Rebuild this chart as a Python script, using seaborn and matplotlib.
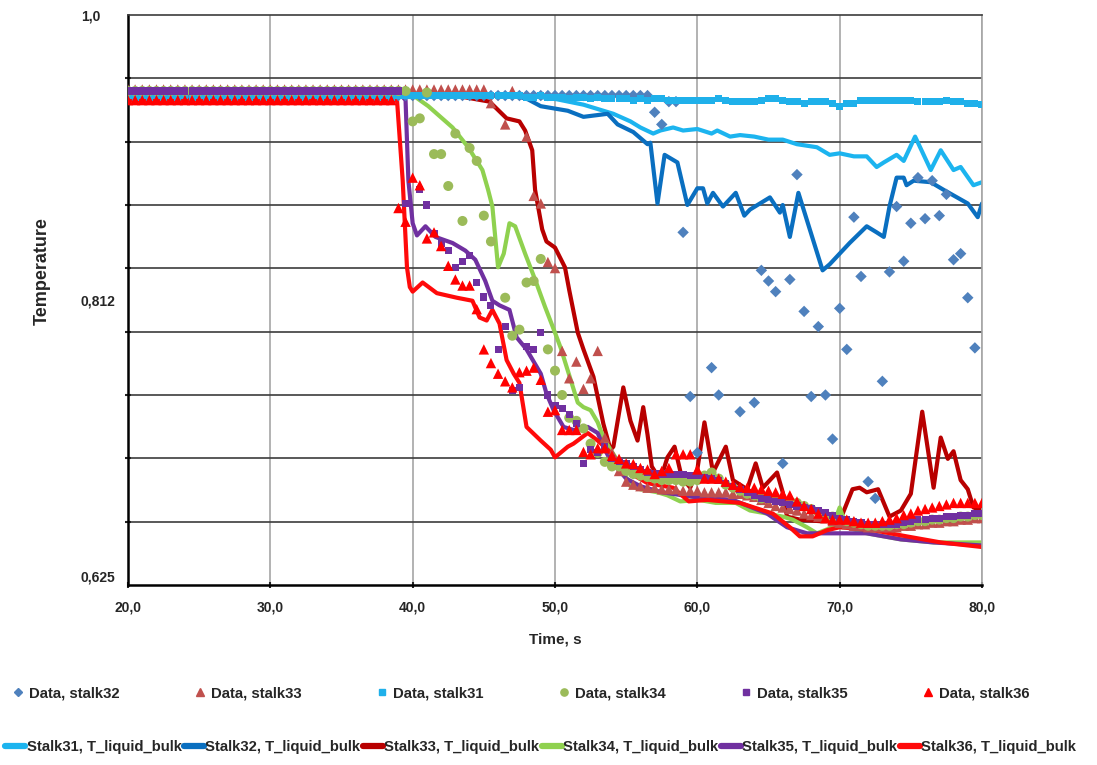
import numpy as np
import matplotlib
matplotlib.use("Agg")
import matplotlib.pyplot as plt
from matplotlib.lines import Line2D
import seaborn as sns

# ---------------- data ----------------
time_s = np.arange(20.0, 80.01, 0.5)   # sample times of the measured data (121 points)

data_stalk31 = ([0.947, 0.946, 0.947, 0.946, 0.947, 0.946, 0.947, 0.946, 0.947, 0.946,
                 0.947, 0.946, 0.947, 0.946, 0.947, 0.946, 0.947, 0.946, 0.947, 0.946,
                 0.947, 0.946, 0.947, 0.946, 0.947, 0.946, 0.947, 0.946, 0.947, 0.946,
                 0.947, 0.946, 0.947, 0.946, 0.947, 0.946, 0.947, 0.946, 0.947, 0.947,
                 0.947, 0.947, 0.947, 0.947, 0.947, 0.947, 0.947, 0.947, 0.947, 0.947,
                 0.947, 0.947, 0.947, 0.947, 0.947, 0.947]
                + [0.946, 0.946, 0.947, 0.946, 0.946, 0.946, 0.945, 0.946, 0.946, 0.945,
                   0.946, 0.945, 0.945, 0.945, 0.945, 0.944, 0.945, 0.944, 0.945, 0.945,
                   0.944, 0.944, 0.944, 0.944, 0.944]
                + [0.944, 0.944, 0.945, 0.944, 0.943, 0.943, 0.943, 0.943, 0.944, 0.945,
                   0.945, 0.944, 0.943, 0.943, 0.942, 0.943, 0.943, 0.943, 0.942, 0.940]
                + [0.942, 0.942, 0.944, 0.944, 0.944, 0.944, 0.944, 0.944, 0.944, 0.944,
                   0.943, 0.943, 0.943, 0.943, 0.944, 0.943, 0.943, 0.942, 0.942, 0.941])

nan = np.nan
data_stalk32 = ([0.947, 0.947, 0.947, 0.947, 0.947, 0.947, 0.947, 0.947, 0.947, 0.947,
                 0.947, 0.947, 0.947, 0.947, 0.947, 0.947, 0.947, 0.947, 0.947, 0.947,
                 0.947, 0.947, 0.947, 0.947, 0.947, 0.947, 0.947, 0.947, 0.947, 0.947,
                 0.947, 0.947, 0.947, 0.947, 0.947, 0.947, 0.947, 0.947, 0.947, 0.947,
                 0.947, 0.947, 0.947, 0.947, 0.947, 0.947, 0.947, 0.947, 0.947, 0.947,
                 0.947, 0.947, 0.947, 0.947, 0.947, 0.947, 0.947, 0.947, 0.947, 0.947,
                 0.947, 0.947, 0.947, 0.947, 0.947, 0.947, 0.947, 0.947, 0.947, 0.947,
                 0.947, 0.947, 0.947, 0.947]
                + [0.936, 0.928, 0.943, 0.943, 0.857, 0.749, 0.712, nan, 0.768, 0.750,
                   nan, nan, 0.739, nan, 0.745, 0.832, 0.825, 0.818, 0.705, 0.826,
                   0.895, 0.805, 0.749, 0.795, 0.750, 0.721, 0.807, 0.780, 0.867, 0.828,
                   0.693, 0.682, 0.759, 0.831, 0.874, 0.838, 0.863, 0.893, 0.866, 0.891,
                   0.868, 0.882, 0.839, 0.843, 0.814, 0.781, nan])

data_stalk33 = ([0.951, 0.951, 0.951, 0.951, 0.951, 0.951, 0.951, 0.951, 0.951, 0.951,
                 0.951, 0.951, 0.951, 0.951, 0.951, 0.951, 0.951, 0.951, 0.951, 0.951,
                 0.951, 0.951, 0.951, 0.951, 0.951, 0.951, 0.951, 0.951, 0.951, 0.951,
                 0.951, 0.951, 0.951, 0.951, 0.951, 0.951, 0.951, 0.951, 0.951, 0.951,
                 0.951, 0.951, 0.951, 0.951, 0.951, 0.951, 0.951, 0.951, 0.951, 0.951,
                 0.951]
                + [0.942, nan, 0.928, 0.950, nan, 0.920, 0.881, 0.876, 0.8375, 0.8335,
                   0.779, 0.761, 0.772, 0.754, 0.761, 0.779, 0.722, 0.712, 0.700]
                + [0.693, 0.691, 0.690, 0.689, 0.689, 0.688, 0.688, 0.688, 0.687, 0.687,
                   0.687, 0.686, 0.686, 0.686, 0.686, 0.685, 0.685, 0.684, 0.683, 0.681,
                   0.679, 0.677, 0.676, 0.675, 0.674, 0.672, 0.671, 0.670, 0.669, 0.667,
                   0.666, 0.665, 0.664, 0.664, 0.663, 0.663, 0.663, 0.663, 0.663, 0.664,
                   0.664, 0.665, 0.665, 0.666, 0.666, 0.667, 0.667, 0.668, 0.668, 0.669,
                   0.669])

data_stalk34 = ([0.950, 0.950, 0.950, 0.950, 0.950, 0.950, 0.950, 0.950, 0.950, 0.950,
                 0.950, 0.950, 0.950, 0.950, 0.950, 0.950, 0.950, 0.950, 0.950, 0.950,
                 0.950, 0.950, 0.950, 0.950, 0.950, 0.950, 0.950, 0.950, 0.950, 0.950,
                 0.950, 0.950, 0.950, 0.950, 0.950, 0.950, 0.950, 0.950, 0.950, 0.950]
                + [0.930, 0.932, 0.949, 0.9085, 0.9085, 0.8875, 0.922, 0.8645, 0.9125, 0.904,
                   0.868, 0.851, nan, 0.814, 0.789, 0.793, 0.824, 0.825, 0.8395, 0.780,
                   0.766, 0.750, 0.735, 0.733, 0.728, 0.718, 0.712, 0.706, 0.703]
                + [0.703, 0.700, 0.698, 0.697, 0.696, 0.695, 0.694, 0.694, 0.694, 0.693,
                   0.693, 0.694, 0.697, 0.699, 0.695, 0.691, 0.689, 0.687, 0.685, 0.684,
                   0.682, 0.682, 0.681, 0.680, 0.680, 0.679, 0.677, 0.675, 0.673, 0.671,
                   0.670, 0.668, 0.667, 0.666, 0.665, 0.664, 0.664, 0.664, 0.664, 0.665,
                   0.665, 0.666, 0.667, 0.667, 0.668, 0.668, 0.669, 0.669, 0.670, 0.670,
                   0.671, 0.671])

data_stalk35 = ([0.950, 0.950, 0.950, 0.950, 0.950, 0.950, 0.950, 0.950, 0.950, 0.950,
                 0.950, 0.950, 0.950, 0.950, 0.950, 0.950, 0.950, 0.950, 0.950, 0.950,
                 0.950, 0.950, 0.950, 0.950, 0.950, 0.950, 0.950, 0.950, 0.950, 0.950,
                 0.950, 0.950, 0.950, 0.950, 0.950, 0.950, 0.950, 0.950, 0.950]
                + [0.876, nan, 0.885, 0.875, 0.856, 0.850, 0.845, 0.834, 0.838, 0.842,
                   0.824, 0.8145, 0.809, 0.780, 0.795, 0.753, 0.755, 0.782, 0.780, 0.791,
                   0.750, 0.743, 0.741, 0.737, 0.731, 0.705, 0.714, 0.712, 0.716, 0.7085]
                + [0.706, 0.705, 0.703, 0.701, 0.699, 0.6985, 0.698, 0.698, 0.6975, 0.6975,
                   0.697, 0.697, 0.696, 0.695, 0.694, 0.692, 0.690, 0.688, 0.686, 0.684,
                   0.682, 0.681, 0.680, 0.679, 0.678, 0.677, 0.676, 0.675, 0.674, 0.6725,
                   0.671, 0.669, 0.668, 0.667, 0.666, 0.665, 0.665, 0.665, 0.665, 0.665,
                   0.666, 0.667, 0.668, 0.668, 0.669, 0.669, 0.670, 0.670, 0.671, 0.671,
                   0.672, 0.672])

data_stalk36 = ([0.944, 0.944, 0.944, 0.944, 0.944, 0.944, 0.944, 0.944, 0.944, 0.944,
                 0.944, 0.944, 0.944, 0.944, 0.944, 0.944, 0.944, 0.944, 0.944, 0.944,
                 0.944, 0.944, 0.944, 0.944, 0.944, 0.944, 0.944, 0.944, 0.944, 0.944,
                 0.944, 0.944, 0.944, 0.944, 0.944, 0.944, 0.944, 0.944]
                + [0.873, 0.864, 0.893, 0.888, 0.853, 0.857, 0.848, 0.835, 0.826, 0.822,
                   0.822, 0.8065, 0.780, 0.771, 0.764, 0.759, 0.755, 0.765, 0.766, 0.768,
                   0.760, 0.739, 0.740, 0.727, 0.727, 0.727, 0.7125, 0.711, 0.715, 0.715,
                   0.710, 0.708]
                + [0.705, 0.7046, 0.702, 0.701, 0.698, 0.700, 0.702, 0.711, 0.711, 0.711,
                   0.701, 0.695, 0.695, 0.695, 0.693, 0.691, 0.6895, 0.689, 0.689, 0.688,
                   0.687, 0.686, 0.685, 0.684, 0.680, 0.677, 0.675, 0.672, 0.669, 0.668,
                   0.668, 0.668, 0.667, 0.666, 0.666, 0.666, 0.667, 0.668, 0.669, 0.671,
                   0.672, 0.674, 0.675, 0.676, 0.677, 0.678, 0.679, 0.679, 0.679, 0.679,
                   0.679])

# simulated T_liquid_bulk curves (x = time, y = temperature)
sim31_t = [20, 30, 40, 46, 48, 49.9, 52, 54.1, 55.3, 56, 56.9, 57.4, 58.3, 59, 60, 61, 61.4,
           62.3, 63, 64, 65, 66, 67, 68.4, 69.3, 70, 71, 71.9, 72.6, 73.1, 74, 74.5, 75.3,
           76.4, 77.1, 78, 78.5, 79.4, 80]
sim31_y = [0.947, 0.947, 0.947, 0.947, 0.947, 0.945, 0.941, 0.935, 0.930, 0.926, 0.922, 0.924,
           0.926, 0.924, 0.925, 0.922, 0.924, 0.920, 0.921, 0.920, 0.918, 0.918, 0.915, 0.913,
           0.908, 0.909, 0.907, 0.907, 0.900, 0.903, 0.908, 0.904, 0.920, 0.898, 0.911, 0.898,
           0.900, 0.888, 0.890]

sim32_t = [20, 30, 40, 47, 48, 49, 50.9, 52, 53.7, 54.4, 55.5, 56.5, 56.7, 57.2, 57.7, 58.6,
           59.3, 60, 60.4, 60.7, 61.1, 61.8, 62.7, 63.3, 63.7, 65.1, 65.8, 66, 66.5, 67.1,
           67.9, 68.8, 69.3, 70, 70.7, 71.9, 72.6, 73.1, 73.5, 74, 74.5, 74.7, 75.2, 76.4,
           77.3, 79, 79.7, 80]
sim32_y = [0.947, 0.947, 0.947, 0.947, 0.945, 0.940, 0.937, 0.933, 0.935, 0.928, 0.923, 0.915,
           0.916, 0.876, 0.908, 0.903, 0.875, 0.886, 0.886, 0.876, 0.883, 0.874, 0.883, 0.868,
           0.872, 0.880, 0.870, 0.875, 0.854, 0.883, 0.859, 0.832, 0.836, 0.843, 0.850, 0.861,
           0.857, 0.854, 0.874, 0.893, 0.893, 0.888, 0.891, 0.890, 0.885, 0.876, 0.867, 0.876]

sim33_t = [20, 30, 40, 43, 44.2, 45.4, 46.6, 47.5, 47.9, 48.4, 48.6, 49.1, 49.4, 50.0, 50.7,
           51.0, 51.6, 52.0, 52.7, 53.4, 53.9, 54.1, 54.8, 55.3, 55.8, 56.2, 56.5, 56.8, 57.4,
           57.9, 58.4, 58.9, 59.5, 60.0, 60.5, 61.1, 62.0, 62.5, 63.5, 64.1, 64.6, 65.1, 65.6,
           66.0, 66.3, 67.2, 68.6, 70.0, 70.9, 71.4, 71.9, 72.7, 73.5, 74.3, 75.0, 75.8, 76.6,
           77.1, 77.6, 78.0, 78.5, 79.0, 79.4, 80]
sim33_y = [0.947, 0.947, 0.947, 0.947, 0.945, 0.943, 0.932, 0.930, 0.924, 0.911, 0.885, 0.859,
           0.851, 0.847, 0.834, 0.819, 0.791, 0.780, 0.762, 0.731, 0.714, 0.716, 0.755, 0.733,
           0.720, 0.742, 0.724, 0.703, 0.694, 0.709, 0.716, 0.696, 0.689, 0.701, 0.732, 0.699,
           0.716, 0.694, 0.688, 0.705, 0.689, 0.694, 0.699, 0.686, 0.670, 0.668, 0.667, 0.667,
           0.688, 0.689, 0.686, 0.688, 0.670, 0.674, 0.685, 0.739, 0.689, 0.722, 0.708, 0.713,
           0.694, 0.688, 0.676, 0.674]

sim34_t = [20, 30, 40.2, 41.1, 42.8, 43.9, 44.9, 45.3, 45.6, 45.8, 46.0, 46.4, 46.8, 47.2,
           47.9, 48.6, 49.3, 50.0, 50.4, 51.1, 51.6, 52.0, 52.5, 53.0, 53.4, 53.9, 54.6, 55.3,
           56.0, 57.2, 57.9, 58.8, 60.1, 61.3, 62.7, 63.7, 64.9, 66.0, 66.7, 67.7, 68.4, 69.5,
           70.0, 70.5, 71.9, 74.3, 76.6, 80]
sim34_y = [0.947, 0.947, 0.946, 0.940, 0.926, 0.913, 0.898, 0.885, 0.874, 0.854, 0.834, 0.843,
           0.863, 0.861, 0.843, 0.826, 0.808, 0.791, 0.781, 0.760, 0.745, 0.742, 0.740, 0.732,
           0.722, 0.714, 0.704, 0.690, 0.688, 0.686, 0.684, 0.680, 0.681, 0.679, 0.679, 0.674,
           0.672, 0.670, 0.668, 0.663, 0.659, 0.663, 0.676, 0.663, 0.659, 0.655, 0.653, 0.653]

sim35_t = [20, 30, 39.2, 39.5, 39.7, 40.0, 40.3, 40.9, 41.6, 42.8, 43.7, 44.4, 45.1, 45.6,
           46.1, 46.8, 47.3, 48.0, 49.0, 49.4, 49.9, 50.6, 51.3, 52.3, 53.0, 53.4, 53.9, 55.0,
           56.0, 57.5, 59.7, 62.5, 64.9, 66.3, 67.7, 69.5, 71.9, 74.3, 76.6, 80]
sim35_y = [0.947, 0.947, 0.947, 0.944, 0.891, 0.863, 0.855, 0.861, 0.854, 0.850, 0.845, 0.839,
           0.825, 0.812, 0.809, 0.806, 0.788, 0.780, 0.764, 0.751, 0.740, 0.729, 0.727, 0.729,
           0.725, 0.716, 0.707, 0.695, 0.690, 0.686, 0.683, 0.681, 0.672, 0.663, 0.659, 0.659,
           0.659, 0.655, 0.653, 0.651]

sim36_t = [20, 30, 38.9, 39.3, 39.6, 39.8, 40.0, 40.7, 41.7, 43.1, 44.2, 44.7, 45.2, 45.6,
           46.1, 46.6, 47.1, 47.5, 48.0, 49.0, 49.7, 50.0, 50.9, 51.3, 52.3, 53.0, 53.7, 55.0,
           56.5, 58.3, 59.4, 60.7, 63.0, 65.3, 66.5, 67.2, 68.1, 69.1, 70.0, 72.4, 74.7, 77.1, 80]
sim36_y = [0.944, 0.944, 0.944, 0.891, 0.834, 0.821, 0.818, 0.824, 0.817, 0.814, 0.812, 0.801,
           0.799, 0.806, 0.797, 0.773, 0.764, 0.758, 0.729, 0.720, 0.714, 0.709, 0.716, 0.718,
           0.725, 0.720, 0.714, 0.700, 0.692, 0.689, 0.680, 0.681, 0.679, 0.672, 0.663, 0.657,
           0.657, 0.661, 0.663, 0.661, 0.657, 0.653, 0.650]

x_ticks = [20, 30, 40, 50, 60, 70, 80]
x_tick_labels = ["20,0", "30,0", "40,0", "50,0", "60,0", "70,0", "80,0"]
y_label_ticks = [0.625, 0.8125, 1.0]
y_tick_labels = ["0,625", "0,812", "1,0"]
y_grid = [0.625, 0.66667, 0.70833, 0.75, 0.79167, 0.83333, 0.875, 0.91667, 0.95833, 1.0]

# ---------------- styling ----------------
sns.set_style("white")
plt.rcParams["font.family"] = ["Liberation Sans", "DejaVu Sans"]

fig = plt.figure(figsize=(10.97, 7.65), dpi=100)
ax = fig.add_axes([128 / 1097, 1 - 585 / 765, (982 - 128) / 1097, (585 - 15) / 765])

scatter_specs = [
    (data_stalk32, "D", "#4F81BD", 34, "Data, stalk32"),
    (data_stalk33, "^", "#C0504D", 56, "Data, stalk33"),
    (data_stalk31, "s", "#1FB0EA", 26, "Data, stalk31"),
    (data_stalk34, "o", "#9BBB59", 52, "Data, stalk34"),
    (data_stalk35, "s", "#7030A0", 26, "Data, stalk35"),
    (data_stalk36, "^", "#FF0000", 56, "Data, stalk36"),
]

line_specs = [
    (sim31_t, sim31_y, "#1CB4EF", "Stalk31, T_liquid_bulk"),
    (sim32_t, sim32_y, "#0A6FC0", "Stalk32, T_liquid_bulk"),
    (sim33_t, sim33_y, "#B80000", "Stalk33, T_liquid_bulk"),
    (sim34_t, sim34_y, "#8FD14F", "Stalk34, T_liquid_bulk"),
    (sim35_t, sim35_y, "#7030A0", "Stalk35, T_liquid_bulk"),
    (sim36_t, sim36_y, "#FF0A0A", "Stalk36, T_liquid_bulk"),
]
for xs, ys, col, lab in line_specs:
    sns.lineplot(x=xs, y=ys, color=col, linewidth=3.0, sort=False, estimator=None,
                 ax=ax, legend=False, zorder=2)
for ln in ax.get_lines():
    ln.set_solid_joinstyle("round")
    ln.set_solid_capstyle("round")

for vals, mk, col, sz, lab in scatter_specs:
    sns.scatterplot(x=time_s, y=np.array(vals, dtype=float), marker=mk, color=col, s=sz,
                    edgecolor="none", linewidth=0, ax=ax, legend=False, zorder=3)

ax.set_xlim(20, 80)
ax.set_ylim(0.625, 1.0)
ax.set_axisbelow(True)

ax.set_xticks(x_ticks)
ax.set_xticklabels(x_tick_labels, fontsize=10, fontweight="bold")
ax.set_yticks(y_label_ticks)
ax.set_yticklabels(y_tick_labels, fontsize=10, fontweight="bold")
ax.set_yticks(y_grid, minor=True)
ax.tick_params(axis="y", which="major", length=0, pad=34, left=True)
ax.tick_params(axis="y", which="minor", length=5, width=1.5, direction="inout", left=True)
ax.tick_params(axis="x", which="major", length=5, width=1.5, direction="inout", pad=9, bottom=True)
for lbl in ax.get_yticklabels():
    lbl.set_horizontalalignment("left")
ax.get_yticklabels()[0].set_verticalalignment("bottom")

ax.yaxis.grid(True, which="minor", color="#3c3c3c", linewidth=1.2)
ax.yaxis.grid(False, which="major")
ax.xaxis.grid(True, which="major", color="#a6a6a6", linewidth=1.2)

for side in ["left", "bottom"]:
    ax.spines[side].set_color("black")
    ax.spines[side].set_linewidth(1.8)
ax.spines["top"].set_color("#3c3c3c")
ax.spines["top"].set_linewidth(1.2)
ax.spines["right"].set_color("#a6a6a6")
ax.spines["right"].set_linewidth(1.2)

ax.set_xlabel("Time, s", fontsize=11, fontweight="bold")
ax.set_ylabel("Temperature", fontsize=13, fontweight="bold")
ax.xaxis.set_label_coords(0.5, -0.083)
ax.yaxis.set_label_coords(-0.091, 0.55)

# ---------------- legend ----------------
prop = {"weight": "bold", "size": 10.7}
marker_handles = [Line2D([], [], marker=mk, color=col, linestyle="none",
                         markersize=(4.2 if mk in ("s", "D") else 5.2))
                  for _, mk, col, _, _ in scatter_specs]
marker_labels = [lab for *_, lab in scatter_specs]
fig.legend(marker_handles, marker_labels, loc="center left", bbox_to_anchor=(13 / 1097, 1 - 693 / 765),
           ncol=6, frameon=False, prop=prop, handlelength=0.7, handletextpad=0.35,
           columnspacing=5.1, borderpad=0, borderaxespad=0)
line_handles = [Line2D([], [], color=col, linewidth=4.5, solid_capstyle="round") for *_, col, _ in line_specs]
line_labels = [lab for *_, lab in line_specs]
fig.legend(line_handles, line_labels, loc="center left", bbox_to_anchor=(5 / 1097, 1 - 747 / 765),
           ncol=6, frameon=False, prop=prop, handlelength=1.35, handletextpad=0.1,
           columnspacing=0.15, borderpad=0, borderaxespad=0)

fig.savefig("out.png", dpi=100)
